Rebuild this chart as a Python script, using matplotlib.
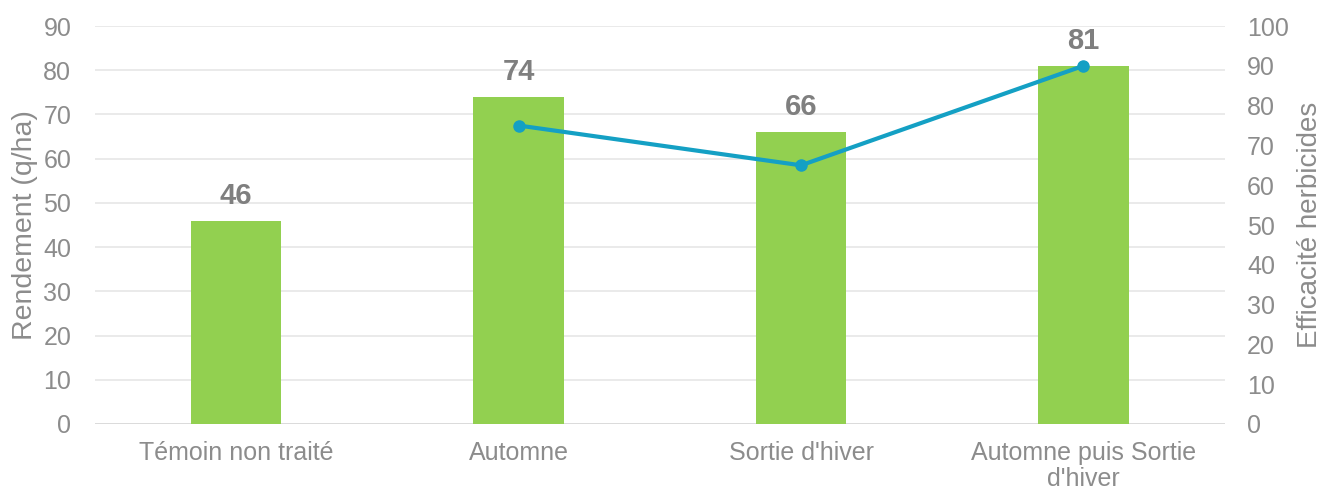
import numpy as np
import matplotlib.pyplot as plt

categories = ["Témoin non traité", "Automne", "Sortie d'hiver", "Automne puis Sortie\nd'hiver"]
rendement = [46, 74, 66, 81]
efficacite = [None, 75, 65, 90]

plt.rcParams['font.family'] = ['Liberation Sans', 'DejaVu Sans']

fig = plt.figure(figsize=(13.37, 4.91), dpi=100)
ax = fig.add_axes([0.071, 0.1365, 0.845, 0.8105])
ax2 = ax.twinx()

x = np.arange(len(categories))
ax.bar(x, rendement, width=0.32, color='#92D050', zorder=2)
for xi, v in zip(x, rendement):
    ax.text(xi, v + 5.6, str(v), ha='center', va='center', fontsize=21,
            fontweight='bold', color='#7F7F7F')

ex = [xi for xi, v in zip(x, efficacite) if v is not None]
ey = [v for v in efficacite if v is not None]
ax2.plot(ex, ey, color='#14A0C4', lw=3, marker='o', ms=8, zorder=3)

ax.set_xlim(-0.5, len(categories) - 0.5)
ax.set_ylim(0, 90)
ax.set_yticks(range(0, 91, 10))
ax2.set_ylim(0, 100)
ax2.set_yticks(range(0, 101, 10))
ax.set_xticks(x)
ax.set_xticklabels(categories, linespacing=1.1)

ax.grid(axis='y', color='#E6E6E6', lw=1.2, zorder=0)
ax.set_axisbelow(True)
for a in (ax, ax2):
    for s in ('top', 'left', 'right', 'bottom'):
        a.spines[s].set_visible(False)
    a.tick_params(length=0, labelsize=18, colors='#8C8C8C')
ax.tick_params(axis='x', pad=12)
ax.tick_params(axis='y', pad=17)
ax2.tick_params(axis='y', pad=16)
ax.axhline(0, color='#D9D9D9', lw=1.2, zorder=1)

ax.set_ylabel('Rendement (q/ha)', fontsize=20.5, color='#8C8C8C', labelpad=4)
ax2.set_ylabel('Efficacité herbicides', fontsize=20, color='#8C8C8C', labelpad=6)

fig.savefig('out.png', dpi=100)
